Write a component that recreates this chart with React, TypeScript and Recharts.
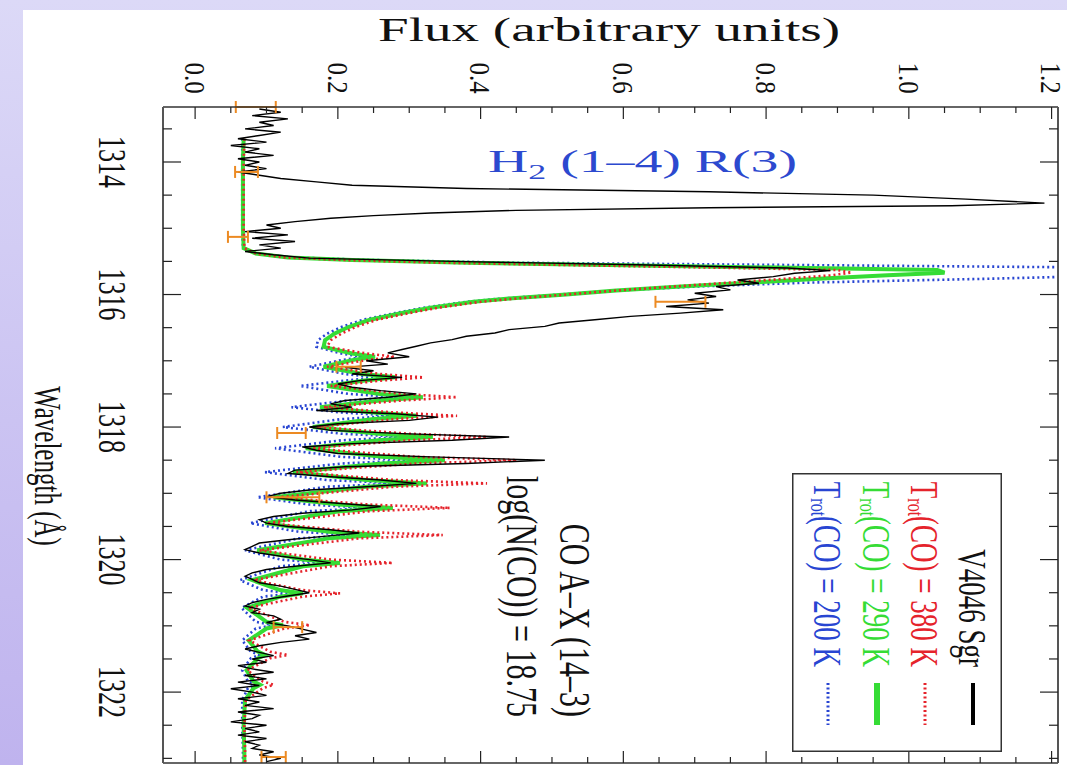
import React from 'react';
import { ComposedChart, Line, Scatter, ErrorBar, XAxis, YAxis, Legend } from 'recharts';

const W = 1067;
const H = 765;
const SERIF = '"Liberation Serif", "Times New Roman", Times, serif';
// the source figure is stretched sideways, so glyphs are widened the same way
const SX = 1.5;
const SX_TICK = 1.2;

// observed spectrum (V4046 Sgr)
const obsWl = [
  1313.2, 1313.25, 1313.3, 1313.35, 1313.4, 1313.45, 1313.5, 1313.55, 1313.6, 1313.65,
  1313.7, 1313.75, 1313.8, 1313.85, 1313.9, 1313.95, 1314.0, 1314.05, 1314.1, 1314.15,
  1314.2, 1314.25, 1314.3, 1314.35, 1314.4, 1314.45, 1314.5, 1314.56, 1314.62, 1314.66,
  1314.69, 1314.73, 1314.77, 1314.81, 1314.85, 1314.9, 1314.95, 1315.0, 1315.05, 1315.1,
  1315.15, 1315.2, 1315.25, 1315.3, 1315.35, 1315.4, 1315.45, 1315.5, 1315.55, 1315.6,
  1315.64, 1315.68, 1315.73, 1315.78, 1315.83, 1315.88, 1315.93, 1315.98, 1316.03, 1316.08,
  1316.13, 1316.18, 1316.23, 1316.28, 1316.33, 1316.38, 1316.43, 1316.48, 1316.53, 1316.58,
  1316.63, 1316.68, 1316.73, 1316.78, 1316.83, 1316.88, 1316.94, 1317.0, 1317.05, 1317.1,
  1317.15, 1317.2, 1317.25, 1317.3, 1317.35, 1317.4, 1317.45, 1317.5, 1317.55, 1317.6,
  1317.65, 1317.7, 1317.75, 1317.8, 1317.85, 1317.9, 1317.95, 1318.0, 1318.05, 1318.1,
  1318.15, 1318.2, 1318.25, 1318.3, 1318.35, 1318.4, 1318.45, 1318.5, 1318.55, 1318.6,
  1318.65, 1318.7, 1318.75, 1318.8, 1318.85, 1318.9, 1318.95, 1319.0, 1319.05, 1319.1,
  1319.15, 1319.2, 1319.25, 1319.3, 1319.35, 1319.4, 1319.45, 1319.5, 1319.55, 1319.6,
  1319.65, 1319.7, 1319.75, 1319.8, 1319.85, 1319.9, 1319.95, 1320.0, 1320.05, 1320.1,
  1320.15, 1320.2, 1320.25, 1320.3, 1320.35, 1320.4, 1320.45, 1320.5, 1320.55, 1320.6,
  1320.65, 1320.7, 1320.75, 1320.8, 1320.85, 1320.9, 1320.95, 1321.0, 1321.05, 1321.1,
  1321.15, 1321.2, 1321.25, 1321.3, 1321.35, 1321.4, 1321.45, 1321.5, 1321.55, 1321.6,
  1321.65, 1321.7, 1321.75, 1321.8, 1321.85, 1321.9, 1321.95, 1322.0, 1322.05, 1322.1,
  1322.15, 1322.2, 1322.25, 1322.3, 1322.35, 1322.4, 1322.45, 1322.5, 1322.55, 1322.6,
  1322.65, 1322.7, 1322.75, 1322.8, 1322.85, 1322.9, 1322.95, 1323.0, 1323.05,
];
const obsFlux = [
  0.09, 0.12, 0.08, 0.13, 0.09, 0.11, 0.07, 0.12, 0.09, 0.06,
  0.1, 0.05, 0.09, 0.07, 0.11, 0.06, 0.09, 0.07, 0.1, 0.06,
  0.09, 0.12, 0.17, 0.22, 0.38, 0.72, 0.95, 1.08, 1.19, 1.06,
  0.72, 0.45, 0.33, 0.25, 0.19, 0.14, 0.1, 0.12, 0.07, 0.13,
  0.08, 0.14, 0.09, 0.12, 0.07, 0.11, 0.16, 0.36, 0.62, 0.83,
  0.89, 0.84, 0.81, 0.76, 0.79, 0.73, 0.75, 0.7, 0.73, 0.69,
  0.72, 0.66, 0.74, 0.68, 0.61, 0.56, 0.51, 0.49, 0.44, 0.42,
  0.38, 0.36, 0.33, 0.31, 0.29, 0.27, 0.3, 0.24, 0.27, 0.21,
  0.25, 0.22, 0.29, 0.23, 0.2, 0.22, 0.26, 0.31, 0.27, 0.21,
  0.19, 0.22, 0.17, 0.28, 0.34, 0.3, 0.2, 0.16, 0.19, 0.29,
  0.44, 0.36, 0.22, 0.15, 0.17, 0.2, 0.33, 0.49, 0.38, 0.21,
  0.14, 0.13, 0.19, 0.26, 0.31, 0.24, 0.16, 0.12, 0.1, 0.14,
  0.2, 0.26, 0.22, 0.15, 0.11, 0.09, 0.1, 0.13, 0.19, 0.23,
  0.18, 0.13, 0.09, 0.08, 0.07, 0.09, 0.12, 0.16, 0.19, 0.14,
  0.1, 0.08, 0.07, 0.08, 0.09, 0.12, 0.14, 0.16, 0.13, 0.1,
  0.08, 0.07, 0.09, 0.08, 0.11, 0.12, 0.1, 0.13, 0.15, 0.17,
  0.14, 0.16, 0.12, 0.09, 0.07, 0.09, 0.11, 0.08, 0.1, 0.06,
  0.08, 0.11, 0.07, 0.1, 0.06, 0.09, 0.05, 0.08, 0.1, 0.06,
  0.09, 0.07, 0.11, 0.06, 0.09, 0.08, 0.05, 0.1, 0.07, 0.09,
  0.06, 0.1, 0.07, 0.09, 0.08, 0.11, 0.09, 0.12, 0.1,
];

// CO A-X (14-3) models, log N(CO) = 18.75, on one wavelength grid
const modelWl = [
  1313.65, 1314.0, 1314.5, 1315.0, 1315.3, 1315.38, 1315.44, 1315.48, 1315.52, 1315.56,
  1315.6, 1315.63, 1315.67, 1315.71, 1315.76, 1315.82, 1315.88, 1315.94, 1316.0, 1316.06,
  1316.11, 1316.2, 1316.28, 1316.38, 1316.49, 1316.59, 1316.69,
  1316.79, 1316.89, 1316.94, 1316.99,
  1317.09, 1317.2, 1317.25, 1317.3,
  1317.38, 1317.5, 1317.55, 1317.6,
  1317.7, 1317.78, 1317.83, 1317.88,
  1318.0, 1318.1, 1318.15, 1318.2,
  1318.32, 1318.45, 1318.5, 1318.55,
  1318.68, 1318.8, 1318.85, 1318.9,
  1319.06, 1319.17, 1319.22, 1319.27,
  1319.45, 1319.58, 1319.63, 1319.68,
  1319.86, 1320.0, 1320.05, 1320.1,
  1320.31, 1320.46, 1320.51, 1320.56,
  1320.73, 1320.94, 1320.99, 1321.04,
  1321.22, 1321.39, 1321.44, 1321.49,
  1321.67, 1321.84, 1321.89, 1321.94,
  1322.12, 1322.5, 1322.9, 1323.07,
];
const model380 = [
  0.069, 0.068, 0.068, 0.068, 0.069, 0.085, 0.125, 0.21, 0.35, 0.55,
  0.76, 0.9, 0.92, 0.89, 0.83, 0.75, 0.67, 0.59, 0.52, 0.45,
  0.4, 0.34, 0.3, 0.255, 0.225, 0.205, 0.19,
  0.185, 0.24, 0.28, 0.24,
  0.185, 0.26, 0.32, 0.26,
  0.19, 0.29, 0.367, 0.29,
  0.18, 0.28, 0.367, 0.28,
  0.17, 0.3, 0.409, 0.3,
  0.16, 0.31, 0.451, 0.31,
  0.142, 0.28, 0.409, 0.28,
  0.115, 0.245, 0.357, 0.245,
  0.1, 0.23, 0.347, 0.23,
  0.09, 0.19, 0.277, 0.19,
  0.082, 0.15, 0.203, 0.15,
  0.075, 0.125, 0.161, 0.125,
  0.076, 0.105, 0.13, 0.105,
  0.073, 0.095, 0.11, 0.095,
  0.071, 0.069, 0.07, 0.07,
];
const model290 = [
  0.068, 0.067, 0.067, 0.067, 0.068, 0.085, 0.13, 0.22, 0.38, 0.6,
  0.86, 1.04, 1.05, 0.97, 0.88, 0.78, 0.68, 0.59, 0.52, 0.44,
  0.39, 0.33, 0.29, 0.245, 0.215, 0.195, 0.182,
  0.18, 0.22, 0.252, 0.22,
  0.18, 0.235, 0.28, 0.235,
  0.185, 0.259, 0.319, 0.259,
  0.175, 0.25, 0.311, 0.25,
  0.165, 0.257, 0.333, 0.257,
  0.155, 0.262, 0.35, 0.262,
  0.137, 0.24, 0.325, 0.24,
  0.11, 0.202, 0.277, 0.202,
  0.098, 0.187, 0.259, 0.187,
  0.087, 0.151, 0.203, 0.151,
  0.08, 0.119, 0.151, 0.119,
  0.073, 0.1, 0.123, 0.1,
  0.075, 0.088, 0.098, 0.088,
  0.072, 0.082, 0.091, 0.082,
  0.07, 0.068, 0.069, 0.069,
];
const model200 = [
  0.066, 0.066, 0.066, 0.066, 0.067, 0.085, 0.135, 0.25, 0.45, 0.9,
  1.35, 1.5, 1.45, 1.3, 1.12, 0.86, 0.7, 0.59, 0.51, 0.43,
  0.38, 0.32, 0.28, 0.235, 0.205, 0.185, 0.172,
  0.17, 0.205, 0.235, 0.205,
  0.16, 0.21, 0.255, 0.21,
  0.147, 0.215, 0.285, 0.215,
  0.135, 0.205, 0.28, 0.205,
  0.123, 0.205, 0.295, 0.205,
  0.112, 0.205, 0.31, 0.205,
  0.098, 0.185, 0.29, 0.185,
  0.087, 0.16, 0.245, 0.16,
  0.077, 0.145, 0.225, 0.145,
  0.07, 0.12, 0.18, 0.12,
  0.063, 0.095, 0.135, 0.095,
  0.065, 0.085, 0.11, 0.085,
  0.066, 0.078, 0.09, 0.078,
  0.066, 0.074, 0.085, 0.074,
  0.066, 0.066, 0.067, 0.067,
];

// orange error bars on the data
const errWl = [1313.17, 1314.15, 1315.13, 1316.11, 1317.09, 1318.09, 1319.06, 1321.02, 1322.98];
const errFlux = [0.085, 0.072, 0.06, 0.68, 0.215, 0.135, 0.137, 0.13, 0.11];
const errSize = [0.028, 0.016, 0.014, 0.035, 0.017, 0.02, 0.037, 0.02, 0.017];

const fluxTicks = [
  0, 0.05, 0.1, 0.15, 0.2, 0.25, 0.3, 0.35, 0.4, 0.45, 0.5, 0.55, 0.6,
  0.65, 0.7, 0.75, 0.8, 0.85, 0.9, 0.95, 1.0, 1.05, 1.1, 1.15, 1.2,
];
const wlTicks = [
  1313.5, 1314, 1314.5, 1315, 1315.5, 1316, 1316.5, 1317, 1317.5, 1318,
  1318.5, 1319, 1319.5, 1320, 1320.5, 1321, 1321.5, 1322, 1322.5, 1323,
];
const FLUX_DOMAIN: [number, number] = [-0.045, 1.209];
const WL_DOMAIN: [number, number] = [1313.17, 1323.07];

const legendTemps = ['380 K', '290 K', '200 K'];
const RED = '#e5232b';
const GREEN = '#35dc35';
const BLUE = '#2845d2';
const ORANGE = '#ec8a22';

const rows = (wl: number[], f: number[]) => wl.map((w, i) => ({ wl: w, f: f[i] }));
const obsRows = rows(obsWl, obsFlux);
const rows380 = rows(modelWl, model380);
const rows290 = rows(modelWl, model290);
const rows200 = rows(modelWl, model200);
const errRows = errWl.map((w, i) => ({ wl: w, f: errFlux[i], e: errSize[i] }));

const isMajor = (v: number, step: number) => Math.abs(v / step - Math.round(v / step)) < 1e-6;

const rotText = (x: number, y: number, sx = SX) => `translate(${x},${y}) scale(${sx},1) rotate(90)`;

function FluxTick(props: any) {
  const { x, y, payload, side } = props;
  const v = payload.value;
  const major = isMajor(v, 0.2);
  const len = major ? 12 : 6;
  const dir = side === 'top' ? 1 : -1;
  return (
    <g>
      <line x1={x} x2={x} y1={y} y2={y + dir * len} stroke="#222" strokeWidth={1.2} />
      {side === 'top' && major && (
        <text transform={rotText(x, y - 29, SX_TICK)} textAnchor="middle" dominantBaseline="central"
          fontSize={25} fontFamily={SERIF} fill="#111">
          {v.toFixed(1)}
        </text>
      )}
    </g>
  );
}

function WlTick(props: any) {
  const { x, y, payload, side } = props;
  const v = payload.value;
  const major = isMajor(v - 1314, 2);
  const len = (major ? 12 : 6) * SX;
  const dir = side === 'left' ? 1 : -1;
  return (
    <g>
      <line x1={x} x2={x + dir * len} y1={y} y2={y} stroke="#222" strokeWidth={1.2} />
      {side === 'left' && major && (
        <text transform={rotText(x - 50, y)} textAnchor="middle" dominantBaseline="central"
          fontSize={26} fontFamily={SERIF} fill="#111">
          {v}
        </text>
      )}
    </g>
  );
}

const noDot = () => <g />;

function LegendBox() {
  const cols = [181, 133, 85, 36];
  const colors = [RED, GREEN, BLUE];
  return (
    <svg width={210} height={279} style={{ display: 'block' }}>
      <rect x={0.75} y={0.75} width={208.5} height={277.5} fill="#fff" stroke="#333" strokeWidth={1.5} />
      <text transform={rotText(cols[0], 194)} textAnchor="end" dominantBaseline="central"
        fontSize={27} fontFamily={SERIF} fill="#111">V4046 Sgr</text>
      <line x1={cols[0]} x2={cols[0]} y1={210} y2={252} stroke="#000" strokeWidth={4} />
      {legendTemps.map((t, i) => (
        <g key={t}>
          <text transform={rotText(cols[i + 1], 194)} textAnchor="end" dominantBaseline="central"
            fontSize={27} fontFamily={SERIF} fill={colors[i]}>
            T<tspan fontSize={16} dy={6}>rot</tspan>
            <tspan dy={-6}>(CO) = {t}</tspan>
          </text>
          <line x1={cols[i + 1]} x2={cols[i + 1]} y1={210} y2={252} stroke={colors[i]}
            strokeWidth={i === 1 ? 6 : 3} strokeDasharray={i === 1 ? undefined : '2 2.5'} />
        </g>
      ))}
    </svg>
  );
}

export default function App() {
  return (
    <div style={{
      position: 'fixed', left: 0, top: 0, width: W, height: H, overflow: 'hidden',
      background: 'linear-gradient(to bottom, #dcd9f7 0%, #cbc3f2 55%, #bfb3ee 100%)',
    }}>
      <div style={{ position: 'absolute', left: 23, top: 10, right: 0, bottom: 0, background: '#fff' }} />
      <div style={{ position: 'absolute', left: 0, top: 0 }}>
        <ComposedChart width={W} height={H} layout="vertical"
          margin={{ top: 0, right: 0, bottom: 0, left: 0 }} style={{ fontFamily: SERIF }}>
          <XAxis xAxisId="top" orientation="top" type="number" domain={FLUX_DOMAIN} allowDataOverflow
            ticks={fluxTicks} interval={0} height={107} tickSize={0} tickMargin={0} tickLine={false}
            axisLine={{ stroke: '#333', strokeWidth: 1.3 }} tick={<FluxTick side="top" />} />
          <XAxis xAxisId="bottom" orientation="bottom" type="number" domain={FLUX_DOMAIN} allowDataOverflow
            ticks={fluxTicks} interval={0} height={2} tickSize={0} tickMargin={0} tickLine={false}
            axisLine={{ stroke: '#333', strokeWidth: 1.3 }} tick={<FluxTick side="bottom" />} />
          <YAxis yAxisId="left" orientation="left" type="number" dataKey="wl" domain={WL_DOMAIN} allowDataOverflow
            ticks={wlTicks} interval={0} width={163} tickSize={0} tickMargin={0} tickLine={false}
            axisLine={{ stroke: '#555', strokeWidth: 2 }} tick={<WlTick side="left" />} />
          <YAxis yAxisId="right" orientation="right" type="number" dataKey="wl" domain={WL_DOMAIN} allowDataOverflow
            ticks={wlTicks} interval={0} width={9} tickSize={0} tickMargin={0} tickLine={false}
            axisLine={{ stroke: '#555', strokeWidth: 2 }} tick={<WlTick side="right" />} />

          <Line xAxisId="top" yAxisId="left" data={rows200} dataKey="f" name="200 K" type="linear"
            stroke={BLUE} strokeWidth={2.6} strokeDasharray="2 3" dot={false} isAnimationActive={false} />
          <Line xAxisId="top" yAxisId="left" data={rows290} dataKey="f" name="290 K" type="linear"
            stroke={GREEN} strokeWidth={4} dot={false} isAnimationActive={false} />
          <Line xAxisId="top" yAxisId="left" data={rows380} dataKey="f" name="380 K" type="linear"
            stroke={RED} strokeWidth={2.6} strokeDasharray="2 3" dot={false} isAnimationActive={false} />
          <Line xAxisId="top" yAxisId="left" data={obsRows} dataKey="f" name="V4046 Sgr" type="linear"
            stroke="#000" strokeWidth={1.4} dot={false} isAnimationActive={false} />
          <Scatter xAxisId="top" yAxisId="left" data={errRows} dataKey="f" shape={noDot} isAnimationActive={false}>
            <ErrorBar dataKey="e" direction="x" width={6} stroke={ORANGE} strokeWidth={2} isAnimationActive={false} />
          </Scatter>

          <Legend layout="horizontal" verticalAlign="middle" align="center" content={LegendBox}
            wrapperStyle={{ left: 792, top: 473, width: 210, height: 279 }} />
        </ComposedChart>
      </div>

      <svg width={W} height={H} style={{ position: 'absolute', left: 0, top: 0, pointerEvents: 'none' }}>
        <text x={378} y={41} fontSize={34} textLength={462} lengthAdjust="spacingAndGlyphs"
          fontFamily={SERIF} fill="#111">Flux (arbitrary units)</text>
        <text transform={rotText(47, 466)} textAnchor="middle" dominantBaseline="central"
          fontSize={25} fontFamily={SERIF} fill="#111">Wavelength (Å)</text>
        <text x={488} y={172} fontSize={31} textLength={309} lengthAdjust="spacingAndGlyphs"
          fontFamily={SERIF} fill="#2c49cf">
          H<tspan fontSize={20} dy={7}>2</tspan><tspan dy={-7}> (1–4) R(3)</tspan>
        </text>
        <text transform={rotText(575, 717)} textAnchor="end" dominantBaseline="central"
          fontSize={30} fontFamily={SERIF} fill="#111">CO A–X (14–3)</text>
        <text transform={rotText(522, 717)} textAnchor="end" dominantBaseline="central"
          fontSize={30} fontFamily={SERIF} fill="#111">log(N(CO)) = 18.75</text>
      </svg>
    </div>
  );
}
